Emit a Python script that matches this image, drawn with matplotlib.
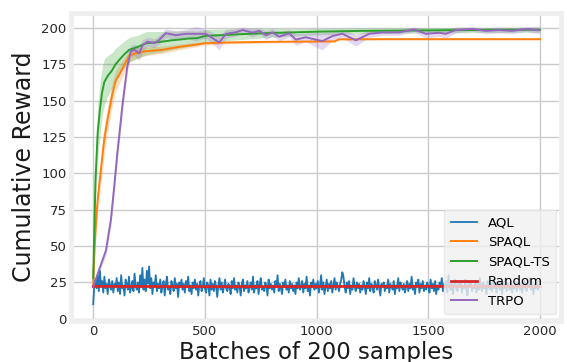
import numpy as np
import matplotlib
matplotlib.use("Agg")
import matplotlib.pyplot as plt

# AQL, one value every 5 batches
aql_step = 5
aql_y = [
    10, 24, 27, 21, 30, 19, 33, 22, 26, 18, 29, 21, 24, 17, 27, 23, 20, 26, 18, 24,
    22, 28, 19, 25, 17, 30, 21, 23, 16, 27, 24, 20, 29, 18, 22, 26, 19, 31, 23, 20,
    25, 18, 30, 22, 35, 20, 27, 19, 33, 24, 36, 21, 28, 17, 25, 22, 30, 19, 24, 21,
    27, 18, 23, 26, 16, 24, 29, 20, 22, 17, 26, 23, 19, 28, 21, 24, 15, 25, 22, 27,
    20, 24, 18, 26, 22, 29, 19, 23, 17, 25, 21, 27, 20, 24, 16, 23, 26, 19, 22, 28,
    21, 18, 25, 23, 16, 27, 20, 24, 19, 26, 22, 15, 23, 28, 20, 25, 18, 22, 27, 21,
    19, 24, 22, 17, 26, 21, 28, 20, 23, 18, 25, 22, 16, 24, 27, 19, 23, 21, 26, 18,
    22, 25, 20, 29, 18, 23, 21, 26, 17, 24, 28, 20, 22, 19, 25, 23, 16, 27, 21, 24,
    20, 23, 18, 26, 22, 30, 19, 24, 21, 17, 25, 22, 27, 20, 23, 18, 26, 21, 24, 19,
    23, 17, 25, 21, 28, 20, 22, 26, 18, 24, 21, 29, 19, 23, 16, 25, 22, 27, 20, 24,
    21, 26, 18, 23, 30, 20, 25, 17, 22, 27, 19, 24, 21, 26, 18, 23, 28, 20, 25, 22,
    19, 24, 27, 32, 29, 22, 18, 25, 21, 26, 17, 23, 20, 28, 22, 19, 25, 21, 24, 18,
    23, 20, 26, 22, 17, 25, 21, 28, 19, 24, 22, 18, 26, 23, 20, 27, 21, 16, 24, 22,
    25, 19, 23, 21, 27, 18, 24, 22, 20, 26, 17, 23, 21, 28, 19, 25, 22, 20, 24, 18,
    22, 26, 19, 24, 21, 29, 20, 23, 17, 25, 22, 27, 18, 24, 21, 26, 19, 23, 20, 25,
    22, 18, 27, 21, 24, 19, 26, 17, 23, 20, 25, 22, 28, 19, 24, 21, 26, 18, 30, 22,
    20, 25, 17, 23, 27, 21, 19, 24, 22, 26, 18, 23, 21, 27, 20, 16, 24, 22, 25, 19,
    23, 21, 26, 18, 24, 20, 28, 22, 19, 25, 21, 23, 17, 26, 22, 20, 24, 19, 27, 21,
    24, 18, 22, 26, 20, 23, 17, 25, 21, 28, 19, 24, 22, 20, 26, 18, 23, 21, 25, 19,
    22, 27, 20, 24, 18, 23, 26, 21, 19, 25, 22, 28, 20, 23, 17, 24, 21, 26, 20, 23,
    22,
]

sp_x = [0, 5, 13, 20, 34, 49, 64, 86, 101, 124, 161, 198, 236, 310, 385, 466, 500,
        600, 750, 900, 1080, 1100, 1300, 1600, 2000]
sp_y = [24, 45, 68, 82, 102, 123, 137, 155, 164, 170, 181, 183, 184, 185, 187, 188.7,
        189.5, 190, 190.4, 190.6, 190.8, 192.2, 192.3, 192.3, 192.3]
sp_sd = [1, 6, 8, 9, 10, 10, 9, 8, 7, 6, 4, 3.5, 3, 2.5, 2, 1.5, 1.2, 1, 0.8, 0.7,
         0.6, 0.5, 0.5, 0.5, 0.5]

ts_x = [0, 10, 20, 30, 40, 50, 65, 85, 100, 116, 140, 161, 200, 236, 270, 309, 350,
        385, 430, 466, 500, 600, 700, 800, 900, 1011, 1200, 1400, 1600, 1800, 2000]
ts_y = [28, 95, 128, 144, 156, 163, 167, 171, 175, 178, 182, 185, 187, 189.5, 190,
        190.6, 191.5, 192, 192.8, 193, 194.5, 195.3, 196, 196.6, 197, 197.5, 198,
        198.2, 198.5, 198.7, 198.8]
ts_sd = [3, 15, 18, 18, 17, 16, 14, 12, 11, 10, 9, 8.5, 8, 8, 7.5, 7, 6.5, 6, 5.5, 5,
         4.5, 4, 3.5, 3, 2.5, 2.2, 2, 1.8, 1.8, 1.8, 1.8]

rnd_x = [0, 500, 1000, 1500, 2000]
rnd_y = [22.3, 22.1, 22.2, 22.3, 22.2]

tr_x = [0, 27, 57, 79, 94, 108, 124, 130, 152, 168, 185, 206, 221, 243, 273, 295,
        325, 370, 414, 459, 504, 534, 564, 594, 638, 668, 713, 743, 773, 802, 832,
        877, 907, 951, 996, 1026, 1071, 1115, 1175, 1235, 1295, 1369, 1436, 1489,
        1548, 1578, 1623, 1697, 1757, 1817, 1876, 1936, 1996]
tr_y = [22, 34, 47, 68, 91, 114, 137, 146, 173, 184, 185, 182.6, 188, 190.6, 189.5,
        191.8, 196.4, 195, 196, 196, 196, 193, 190, 196, 197, 198.6, 196.8, 198, 195,
        197, 194, 196.4, 192, 193.6, 192, 191, 194.5, 196, 191.5, 196, 197, 197, 199,
        196, 196.7, 196, 198.6, 199.3, 198, 198.6, 198, 199.3, 198.5]
tr_sd = [1, 2, 3, 4, 5, 5, 5, 5, 4, 4, 4, 5, 4, 3, 3, 3, 3, 3, 3, 5, 3, 4, 5, 3, 2.5,
         2, 3, 2, 3, 2.5, 3, 2.5, 4, 3, 5, 6, 3, 3, 4, 2.5, 2, 2, 1.5, 3, 2.5, 3, 2,
         1.5, 2, 2, 2, 1.5, 2.5]

fig = plt.figure(figsize=(5.67, 3.62), dpi=100)
ax = fig.add_axes([0.125, 0.1133, 0.865, 0.852])

aql_x = np.arange(len(aql_y)) * aql_step
ax.plot(aql_x, aql_y, color="C0", lw=1.3, label="AQL")

def band(x, y, sd, c, label):
    x = np.array(x); y = np.array(y); sd = np.array(sd)
    ax.fill_between(x, y - sd, y + sd, color=c, alpha=0.25, lw=0)
    ax.plot(x, y, color=c, lw=1.4, label=label)

band(sp_x, sp_y, sp_sd, "C1", "SPAQL")
band(ts_x, ts_y, ts_sd, "C2", "SPAQL-TS")
ax.plot(rnd_x, rnd_y, color="C3", lw=2.0, label="Random")
band(tr_x, tr_y, tr_sd, "C4", "TRPO")

ax.set_xlim(-100, 2095)
ax.set_ylim(-1.5, 210.6)
ax.set_yticks([0, 25, 50, 75, 100, 125, 150, 175, 200])
ax.set_xticks([0, 500, 1000, 1500, 2000])
ax.grid(True, color="#cbcbcb", lw=1.0)
ax.set_axisbelow(True)
for s in ax.spines.values():
    s.set_color("#efefef")
    s.set_linewidth(3.5)
ax.tick_params(length=0, labelsize=9.5, labelcolor="#262626", pad=3)

ax.set_xlabel("Batches of 200 samples", fontsize=16.5, color="#1a1a1a", labelpad=2)
ax.set_ylabel("Cumulative Reward", fontsize=17, color="#1a1a1a", labelpad=4)

leg = ax.legend(loc="lower right", fontsize=9.5, facecolor="#f0f0f0",
                edgecolor="#e6e6e6", framealpha=0.8, borderpad=0.5,
                bbox_to_anchor=(1.003, 0.0))

fig.savefig("out.png", dpi=100, facecolor="white")
